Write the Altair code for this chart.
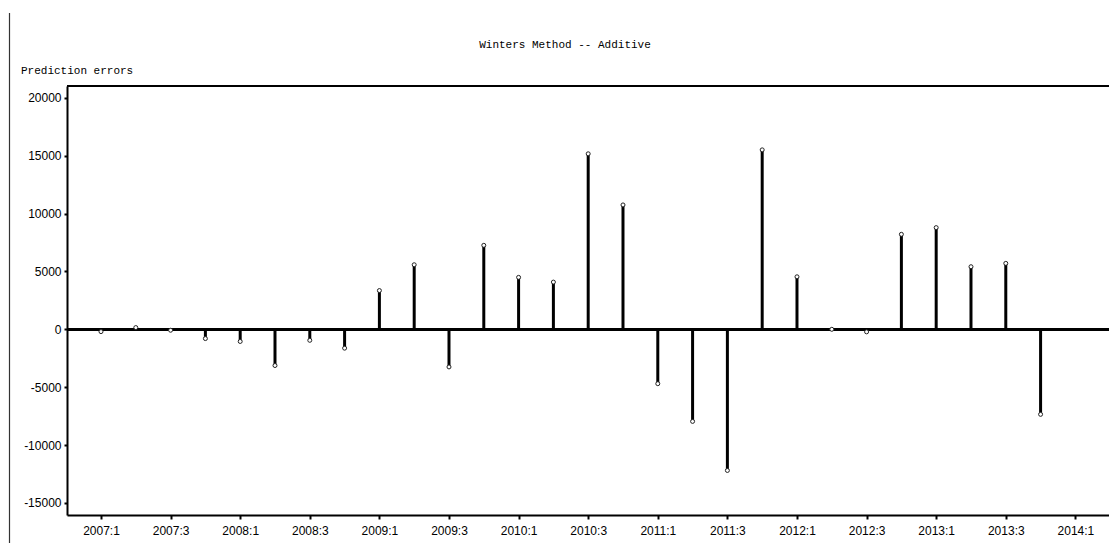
import json

import altair as alt
import pandas as pd

# Quarterly one-step prediction errors of the additive Winters model
quarters = [
    "2007:1", "2007:2", "2007:3", "2007:4",
    "2008:1", "2008:2", "2008:3", "2008:4",
    "2009:1", "2009:2", "2009:3", "2009:4",
    "2010:1", "2010:2", "2010:3", "2010:4",
    "2011:1", "2011:2", "2011:3", "2011:4",
    "2012:1", "2012:2", "2012:3", "2012:4",
    "2013:1", "2013:2", "2013:3", "2013:4",
]
errors = [
    -200, 150, -80, -800,
    -1050, -3130, -950, -1630,
    3350, 5580, -3250, 7260,
    4490, 4080, 15170, 10750,
    -4700, -7960, -12200, 15510,
    4540, 0, -220, 8210,
    8790, 5410, 5700, -7350,
]

# Axis labels run one quarter past the data
axis_quarters = quarters + ["2014:1"]
x_tick_values = list(range(0, len(axis_quarters), 2))
y_tick_values = [-15000, -10000, -5000, 0, 5000, 10000, 15000, 20000]

title_text = "Winters Method -- Additive"
y_label_text = "Prediction errors"

W, H = 1042, 429
x_domain = [-0.977, 28.966]
y_domain = [-16050, 21030]

df = pd.DataFrame({"idx": list(range(len(quarters))), "quarter": quarters, "err": errors, "zero": [0] * len(errors)})

label_font = "Liberation Sans"
text_font = "Liberation Mono"

x_scale = alt.Scale(domain=x_domain, nice=False, zero=False)
y_scale = alt.Scale(domain=y_domain, nice=False, zero=False)

x_axis = alt.Axis(
    values=x_tick_values,
    labelExpr=f"{json.dumps(axis_quarters)}[datum.value]",
    title=None,
    grid=False,
    domainColor="black",
    domainWidth=2,
    tickColor="black",
    tickSize=4,
    tickWidth=2,
    labelPadding=6,
    labelFont=label_font,
    labelFontSize=12,
    labelColor="black",
)
y_axis = alt.Axis(
    values=y_tick_values,
    labelExpr="'' + datum.value",
    title=None,
    grid=False,
    domainColor="black",
    domainWidth=2,
    tickColor="black",
    tickSize=3,
    tickWidth=2,
    labelPadding=3,
    labelFont=label_font,
    labelFontSize=12,
    labelColor="black",
)


def x_enc(field):
    return alt.X(field, type="quantitative", scale=x_scale, axis=x_axis, title=None)


def y_enc(field):
    return alt.Y(field, type="quantitative", scale=y_scale, axis=y_axis, title=None)


base = alt.Chart(df)

stems = base.mark_rule(color="black", strokeWidth=3).encode(
    x=x_enc("idx"),
    y=y_enc("err"),
    y2=alt.Y2("zero"),
)

zero_line = base.mark_rule(color="black", strokeWidth=2).encode(y=y_enc("zero"))

points = base.mark_point(
    shape="circle", filled=True, fill="white", stroke="#222", strokeWidth=1, size=16, opacity=1
).encode(x=x_enc("idx"), y=y_enc("err"))

one_row = pd.DataFrame({"v": [0]})

# Top edge of the frame
top_edge = alt.Chart(one_row).mark_rule(color="black", strokeWidth=2).encode(
    x=alt.value(0), x2=alt.value(W), y=alt.value(0)
)

# Window edge at the far left
side_line = alt.Chart(one_row).mark_rule(color="#333", strokeWidth=1.2).encode(
    x=alt.value(-57.5), y=alt.value(-73), y2=alt.value(457)
)

title = alt.Chart(pd.DataFrame({"t": [title_text]})).mark_text(
    font=text_font, fontSize=11, color="black", align="center", baseline="middle"
).encode(x=alt.value(498), y=alt.value(-41), text="t:N")

y_label = alt.Chart(pd.DataFrame({"t": [y_label_text]})).mark_text(
    font=text_font, fontSize=11, color="black", align="left", baseline="middle"
).encode(x=alt.value(-46), y=alt.value(-15), text="t:N")

chart = (
    alt.layer(zero_line, stems, points, top_edge, side_line, title, y_label)
    .properties(
        width=W,
        height=H,
        autosize=alt.AutoSizeParams(type="none"),
        padding={"left": 67, "top": 86, "right": 0, "bottom": 28},
        background="white",
    )
    .configure_view(strokeWidth=0)
)

chart.save("out.html", embed_options={"renderer": "svg", "actions": False})
